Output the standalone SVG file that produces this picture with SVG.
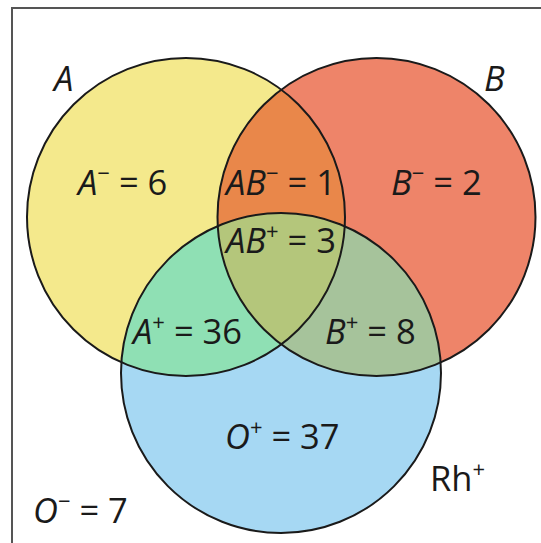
<svg xmlns="http://www.w3.org/2000/svg" width="541" height="543" viewBox="0 0 541 543">
<style>
.lbl{font-family:"Open Sans","Noto Sans","DejaVu Sans",sans-serif;font-size:34.5px;fill:#1a1a1a}
.it{font-style:italic}
.sup{font-size:22px}
.ring{fill:none;stroke:#1a1a1a;stroke-width:2}
</style>
<defs>
<clipPath id="clipA"><circle cx="186" cy="217" r="159"/></clipPath>
<clipPath id="clipB"><circle cx="376.5" cy="217" r="159"/></clipPath>
</defs>
<rect x="0" y="0" width="541" height="543" fill="#ffffff"/>
<rect x="12" y="8" width="560" height="560" fill="#ffffff" stroke="#555555" stroke-width="2"/>
<g id="circles">
<g id="A"><circle cx="186" cy="217" r="159" fill="#f4e98c"/></g>
<g id="B"><circle cx="376.5" cy="217" r="159" fill="#ee8469"/></g>
<g id="Rh"><circle cx="281" cy="373" r="160" fill="#a6d8f3"/></g>
<g id="AB" clip-path="url(#clipA)"><circle cx="376.5" cy="217" r="159" fill="#e9874a"/></g>
<g id="AC" clip-path="url(#clipA)"><circle cx="281" cy="373" r="160" fill="#8fe0b4"/></g>
<g id="BC" clip-path="url(#clipB)"><circle cx="281" cy="373" r="160" fill="#a6c39b"/></g>
<g id="ABC" clip-path="url(#clipB)"><g clip-path="url(#clipA)"><circle cx="281" cy="373" r="160" fill="#b4c67b"/></g></g>
</g>
<g id="connectors">
<circle class="ring" cx="186" cy="217" r="159"/>
<circle class="ring" cx="376.5" cy="217" r="159"/>
<circle class="ring" cx="281" cy="373" r="160"/>
</g>
<g id="labels">
<text class="lbl it" x="54" y="91">A</text>
<text class="lbl it" x="484" y="91">B</text>
<text class="lbl" x="78" y="195"><tspan class="it">A</tspan><tspan class="sup" dy="-14">−</tspan><tspan dy="14"> = 6</tspan></text>
<text class="lbl" x="226" y="195"><tspan class="it">AB</tspan><tspan class="sup" dy="-14">−</tspan><tspan dy="14"> = 1</tspan></text>
<text class="lbl" x="391" y="195"><tspan class="it">B</tspan><tspan class="sup" dy="-14">−</tspan><tspan dy="14"> = 2</tspan></text>
<text class="lbl" x="226" y="253"><tspan class="it">AB</tspan><tspan class="sup" dy="-14">+</tspan><tspan dy="14"> = 3</tspan></text>
<text class="lbl" x="133" y="344"><tspan class="it">A</tspan><tspan class="sup" dy="-14">+</tspan><tspan dy="14"> = 36</tspan></text>
<text class="lbl" x="325" y="344"><tspan class="it">B</tspan><tspan class="sup" dy="-14">+</tspan><tspan dy="14"> = 8</tspan></text>
<text class="lbl" x="225" y="449"><tspan class="it">O</tspan><tspan class="sup" dy="-14">+</tspan><tspan dy="14"> = 37</tspan></text>
<text class="lbl" x="430" y="491">Rh<tspan class="sup" dy="-14">+</tspan></text>
<text class="lbl" x="33" y="523"><tspan class="it">O</tspan><tspan class="sup" dy="-14">−</tspan><tspan dy="14"> = 7</tspan></text>
</g>
</svg>
